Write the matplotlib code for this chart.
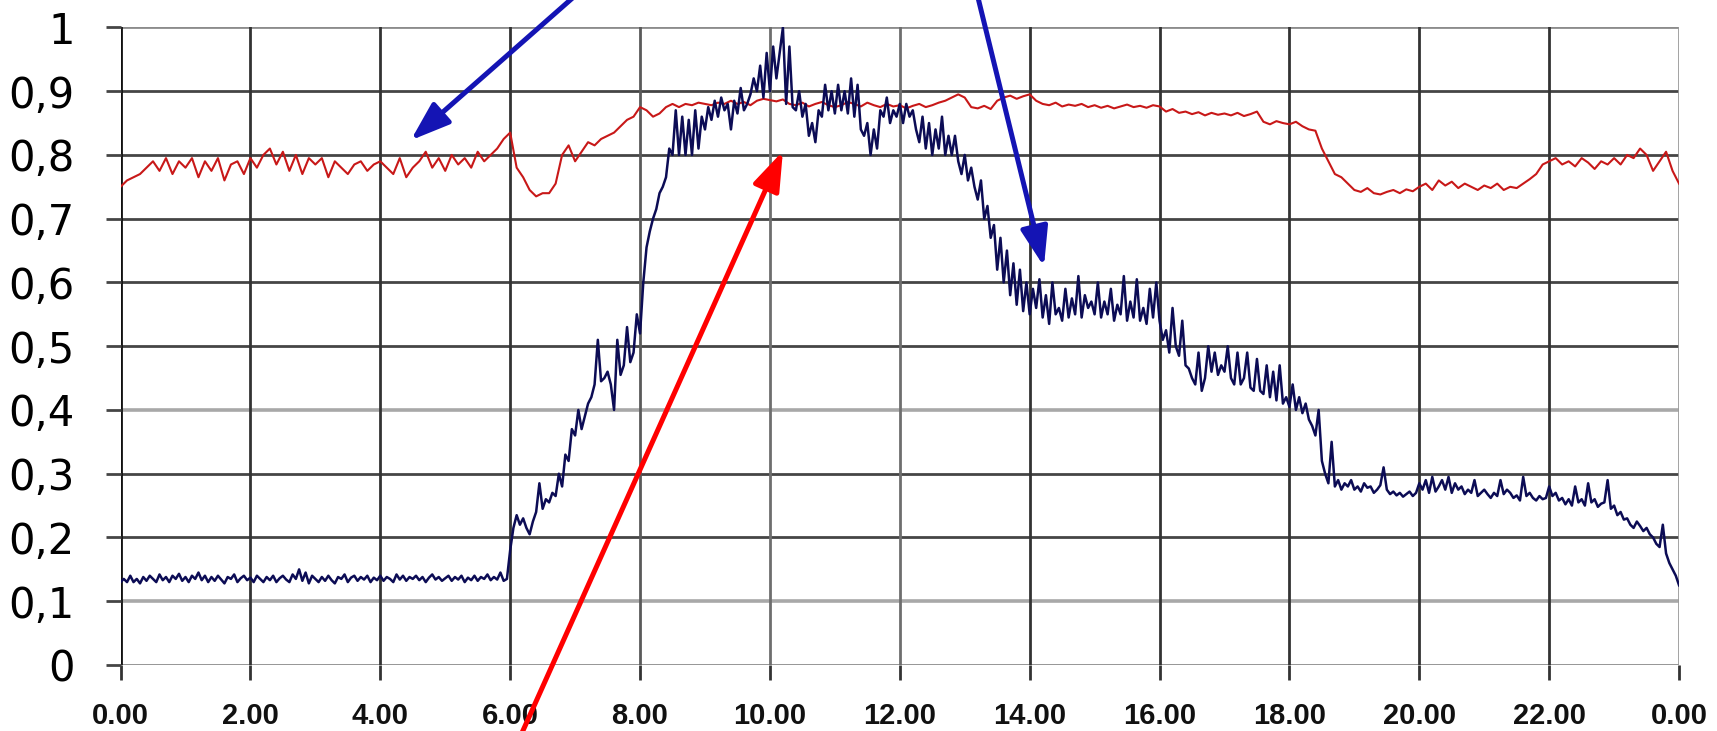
import numpy as np
import matplotlib.pyplot as plt

# red series, one value every 0.1 h from 0.00 to 24.00
red_vals = [
    0.75, 0.76, 0.765, 0.77, 0.78, 0.79, 0.775, 0.795, 0.77, 0.79,
    0.78, 0.795, 0.765, 0.79, 0.775, 0.795, 0.76, 0.785, 0.79, 0.77,
    0.795, 0.78, 0.80, 0.81, 0.785, 0.805, 0.775, 0.80, 0.77, 0.795,
    0.785, 0.795, 0.765, 0.79, 0.78, 0.77, 0.785, 0.79, 0.775, 0.785,
    0.79, 0.78, 0.77, 0.795, 0.765, 0.78, 0.79, 0.805, 0.78, 0.795,
    0.775, 0.80, 0.785, 0.795, 0.78, 0.805, 0.79, 0.80, 0.81, 0.825,
    0.835, 0.78, 0.765, 0.745, 0.735, 0.74, 0.74, 0.755, 0.80, 0.815,
    0.79, 0.805, 0.82, 0.815, 0.825, 0.83, 0.835, 0.845, 0.855, 0.86,
    0.875, 0.87, 0.86, 0.865, 0.875, 0.88, 0.875, 0.88, 0.878, 0.882,
    0.88, 0.878, 0.882, 0.88, 0.885, 0.88, 0.883, 0.878, 0.885, 0.888,
    0.886, 0.884, 0.887, 0.88, 0.878, 0.882, 0.876, 0.88, 0.883, 0.878,
    0.875, 0.878, 0.883, 0.88, 0.876, 0.882, 0.878, 0.875, 0.88, 0.876,
    0.878, 0.873, 0.877, 0.88, 0.875, 0.878, 0.882, 0.885, 0.89, 0.895,
    0.89, 0.875, 0.873, 0.877, 0.872, 0.885, 0.89, 0.893, 0.888, 0.892,
    0.895, 0.885, 0.88, 0.878, 0.882, 0.876, 0.879, 0.877, 0.88, 0.875,
    0.878, 0.874, 0.877, 0.873, 0.876, 0.879, 0.875, 0.877, 0.874, 0.878,
    0.876, 0.868, 0.872, 0.866, 0.868, 0.864, 0.867, 0.862, 0.866, 0.863,
    0.865, 0.862, 0.866, 0.861, 0.864, 0.868, 0.852, 0.848, 0.853, 0.85,
    0.848, 0.852, 0.845, 0.84, 0.838, 0.81, 0.79, 0.77, 0.765, 0.755,
    0.745, 0.742, 0.748, 0.74, 0.738, 0.742, 0.745, 0.74, 0.746, 0.743,
    0.75, 0.755, 0.745, 0.76, 0.752, 0.758, 0.748, 0.755, 0.75, 0.745,
    0.752, 0.748, 0.755, 0.745, 0.75, 0.748, 0.755, 0.762, 0.77, 0.785,
    0.79, 0.795, 0.785, 0.79, 0.782, 0.795, 0.788, 0.778, 0.79, 0.785,
    0.795, 0.785, 0.80, 0.795, 0.81, 0.80, 0.775, 0.79, 0.805, 0.775,
    0.755,
]

# blue series, one value every 0.05 h from 0.00 to 24.00
blue_vals = [
    0.13, 0.135, 0.13, 0.14, 0.13, 0.135, 0.128, 0.138, 0.132, 0.14, 0.135, 0.13, 0.142, 0.133, 0.138, 0.13, 0.14, 0.135, 0.143, 0.132,
    0.138, 0.13, 0.14, 0.135, 0.145, 0.133, 0.14, 0.13, 0.138, 0.132, 0.14, 0.134, 0.128, 0.138, 0.135, 0.142, 0.13, 0.136, 0.14, 0.133,
    0.137, 0.13, 0.14, 0.135, 0.13, 0.138, 0.133, 0.14, 0.13, 0.136, 0.14, 0.134, 0.13, 0.142, 0.135, 0.15, 0.132, 0.145, 0.128, 0.14,
    0.135, 0.13, 0.138, 0.132, 0.14, 0.133, 0.128, 0.138, 0.135, 0.142, 0.13, 0.137, 0.14, 0.132, 0.138, 0.134, 0.14, 0.13, 0.137, 0.133,
    0.14, 0.132, 0.138, 0.135, 0.13, 0.142, 0.134, 0.14, 0.132, 0.138, 0.135, 0.14, 0.133, 0.138, 0.13, 0.137, 0.142, 0.134, 0.138, 0.132,
    0.136, 0.14, 0.132, 0.138, 0.134, 0.14, 0.13, 0.137, 0.133, 0.14, 0.132, 0.138, 0.135, 0.142, 0.133, 0.138, 0.134, 0.145, 0.132, 0.135,
    0.18, 0.215, 0.235, 0.22, 0.23, 0.215, 0.205, 0.225, 0.24, 0.285, 0.245, 0.26, 0.255, 0.27, 0.265, 0.30, 0.28, 0.33, 0.32, 0.37,
    0.36, 0.40, 0.37, 0.39, 0.41, 0.42, 0.44, 0.51, 0.445, 0.45, 0.46, 0.44, 0.40, 0.51, 0.455, 0.47, 0.53, 0.475, 0.49, 0.55,
    0.52, 0.60, 0.655, 0.68, 0.70, 0.715, 0.74, 0.75, 0.765, 0.81, 0.80, 0.87, 0.80, 0.86, 0.80, 0.855, 0.80, 0.87, 0.81, 0.86,
    0.84, 0.875, 0.855, 0.885, 0.86, 0.89, 0.87, 0.88, 0.84, 0.885, 0.865, 0.905, 0.87, 0.88, 0.895, 0.92, 0.90, 0.94, 0.89, 0.96,
    0.90, 0.97, 0.92, 0.96, 1.0, 0.88, 0.97, 0.875, 0.87, 0.90, 0.86, 0.88, 0.83, 0.85, 0.82, 0.87, 0.86, 0.91, 0.87, 0.90,
    0.865, 0.91, 0.87, 0.90, 0.865, 0.92, 0.86, 0.91, 0.84, 0.83, 0.85, 0.80, 0.84, 0.81, 0.87, 0.86, 0.89, 0.85, 0.87, 0.86,
    0.88, 0.85, 0.88, 0.86, 0.87, 0.84, 0.82, 0.86, 0.81, 0.85, 0.80, 0.84, 0.81, 0.86, 0.80, 0.83, 0.80, 0.83, 0.79, 0.77,
    0.80, 0.76, 0.78, 0.75, 0.73, 0.76, 0.70, 0.72, 0.67, 0.69, 0.62, 0.67, 0.60, 0.65, 0.58, 0.63, 0.565, 0.62, 0.555, 0.60,
    0.55, 0.59, 0.56, 0.605, 0.545, 0.58, 0.535, 0.60, 0.55, 0.56, 0.54, 0.59, 0.545, 0.575, 0.55, 0.61, 0.545, 0.58, 0.56, 0.57,
    0.55, 0.60, 0.545, 0.57, 0.55, 0.59, 0.54, 0.565, 0.55, 0.61, 0.54, 0.57, 0.545, 0.605, 0.54, 0.56, 0.535, 0.59, 0.545, 0.60,
    0.54, 0.51, 0.525, 0.49, 0.56, 0.50, 0.485, 0.54, 0.47, 0.465, 0.45, 0.44, 0.49, 0.43, 0.45, 0.50, 0.46, 0.49, 0.455, 0.47,
    0.46, 0.50, 0.45, 0.44, 0.49, 0.44, 0.45, 0.49, 0.435, 0.43, 0.48, 0.43, 0.425, 0.47, 0.42, 0.46, 0.415, 0.47, 0.41, 0.42,
    0.405, 0.44, 0.40, 0.42, 0.395, 0.41, 0.385, 0.375, 0.36, 0.40, 0.32, 0.30, 0.285, 0.35, 0.28, 0.29, 0.275, 0.285, 0.28, 0.29,
    0.275, 0.28, 0.272, 0.285, 0.278, 0.28, 0.27, 0.275, 0.282, 0.31, 0.275, 0.268, 0.272, 0.266, 0.27, 0.264, 0.268, 0.272, 0.265, 0.27,
    0.285, 0.275, 0.29, 0.27, 0.295, 0.272, 0.28, 0.29, 0.275, 0.295, 0.27, 0.285, 0.275, 0.28, 0.268, 0.275, 0.27, 0.29, 0.265, 0.27,
    0.275, 0.268, 0.262, 0.27, 0.265, 0.29, 0.268, 0.275, 0.27, 0.262, 0.266, 0.258, 0.295, 0.265, 0.27, 0.262, 0.258, 0.265, 0.26, 0.262,
    0.28, 0.265, 0.27, 0.258, 0.262, 0.252, 0.26, 0.25, 0.28, 0.255, 0.26, 0.25, 0.285, 0.255, 0.26, 0.248, 0.253, 0.255, 0.29, 0.245,
    0.25, 0.235, 0.24, 0.228, 0.23, 0.22, 0.215, 0.225, 0.218, 0.21, 0.215, 0.205, 0.20, 0.19, 0.185, 0.22, 0.175, 0.16, 0.15, 0.14,
    0.125,
]

red_hours = np.linspace(0, 24, len(red_vals))
blue_hours = np.linspace(0, 24, len(blue_vals))

x_ticks = [0, 2, 4, 6, 8, 10, 12, 14, 16, 18, 20, 22, 24]
x_labels = ['0.00', '2.00', '4.00', '6.00', '8.00', '10.00', '12.00',
            '14.00', '16.00', '18.00', '20.00', '22.00', '0.00']
y_ticks = [0, 0.1, 0.2, 0.3, 0.4, 0.5, 0.6, 0.7, 0.8, 0.9, 1.0]
y_labels = ['0', '0,1', '0,2', '0,3', '0,4', '0,5', '0,6', '0,7', '0,8', '0,9', '1']

# arrows: (tail, head) in data units
blue_arrows = [((7.45, 1.09), (4.47, 0.823)), ((13.1, 1.09), (14.22, 0.625))]
red_arrow = ((5.99, -0.15), (10.2, 0.806))

fig = plt.figure(figsize=(17.17, 7.31), dpi=100)
ax = fig.add_axes([0.0702, 0.0903, 0.9077, 0.8722])
ax.set_xlim(0, 24)
ax.set_ylim(0, 1)

# grid lines, some drawn lighter as in the old spreadsheet export
hcol = {0: '#8c8c8c', 0.1: '#a8a8a8', 0.4: '#a8a8a8', 1.0: '#8c8c8c'}
for y in y_ticks:
    c = hcol.get(y, '#454545')
    ax.axhline(y, color=c, lw=2.6 if c == '#a8a8a8' else 2.0, zorder=1)
vcol = {0: '#111111', 8: '#5a5a5a', 10: '#6e6e6e', 12: '#6e6e6e', 24: '#9a9a9a'}
for x in x_ticks:
    ax.axvline(x, color=vcol.get(x, '#333333'), lw=2.0, zorder=1)

ax.plot(red_hours, red_vals, color='#c81818', lw=1.5, zorder=3)
ax.plot(blue_hours, blue_vals, color='#0c0c55', lw=1.8, zorder=4)

arrow_style = '-|>,head_length=1.2,head_width=0.42'
for tail, head in blue_arrows:
    ax.annotate('', xy=head, xytext=tail, annotation_clip=False,
                arrowprops=dict(arrowstyle=arrow_style, color='#1414b4', lw=3.6,
                                mutation_scale=20, shrinkA=0, shrinkB=0), zorder=6)
ax.annotate('', xy=red_arrow[1], xytext=red_arrow[0], annotation_clip=False,
            arrowprops=dict(arrowstyle=arrow_style, color='#ff0000', lw=3.6,
                            mutation_scale=20, shrinkA=0, shrinkB=0), zorder=6)

for s in ax.spines.values():
    s.set_visible(False)

ax.set_xticks(x_ticks)
ax.set_xticklabels(x_labels, fontfamily='Liberation Sans', fontweight='bold',
                   fontsize=21, color='#111111')
ax.set_yticks(y_ticks)
ax.set_yticklabels(y_labels, fontfamily='DejaVu Sans', fontsize=30)
ax.tick_params(axis='x', direction='out', length=11, width=2.0, color='#333333', pad=16)
ax.tick_params(axis='y', direction='out', length=11, width=2.0, color='#454545', pad=22)

fig.savefig('out.png', dpi=100, facecolor='white')
